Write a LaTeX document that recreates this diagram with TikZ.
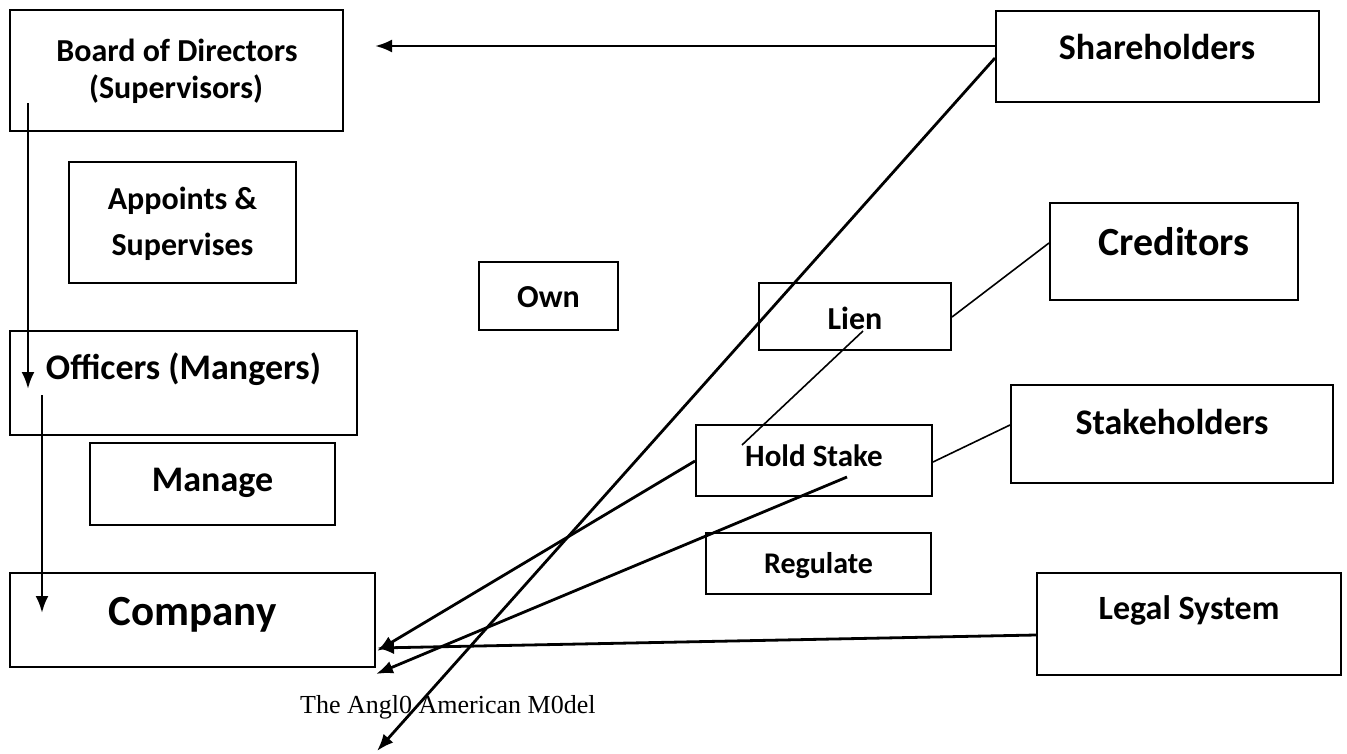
\documentclass[tikz,border=0pt]{standalone}
\usepackage{fontspec}
\setmainfont{Carlito}
\newfontfamily\capfont{Liberation Serif}
\usetikzlibrary{arrows.meta,fit}
\tikzset{
  box/.style={draw, line width=2pt, inner sep=0pt},
  lbl/.style={anchor=base, inner sep=0pt},
  arr/.style={line width=2.8pt, -{Latex[length=17pt,width=13pt]}},
  thin link/.style={line width=1.6pt}
}
\newcommand\fs[1]{\fontsize{#1}{#1}\bfseries\selectfont}
\begin{document}
\begin{tikzpicture}[x=1pt,y=-1pt]
\useasboundingbox (0,0) rectangle (1347,753);
% boxes
\node[box, fit={(10,10)(343,131)}] (bod) {};
\node[box, fit={(996,11)(1319,102)}] (sh) {};
\node[box, fit={(69,162)(296,283)}] (app) {};
\node[box, fit={(479,262)(618,330)}] (own) {};
\node[box, fit={(1050,203)(1298,300)}] (cred) {};
\node[box, fit={(759,283)(951,350)}] (lien) {};
\node[box, fit={(10,331)(357,435)}] (off) {};
\node[box, fit={(90,443)(335,525)}] (man) {};
\node[box, fit={(696,425)(932,496)}] (hs) {};
\node[box, fit={(1011,385)(1333,483)}] (stk) {};
\node[box, fit={(706,533)(931,594)}] (reg) {};
\node[box, fit={(10,573)(375,667)}] (co) {};
\node[box, fit={(1037,573)(1341,675)}] (leg) {};
% texts
\node[lbl, font=\fs{32}] (bodt1) at (177,61) {Board of Directors};
\node[lbl, font=\fs{32}] (bodt2) at (176,98) {(Supervisors)};
\node[lbl, font=\fs{36}] (sht) at (1157,59) {Shareholders};
\node[lbl, font=\fs{32}] (appt1) at (182.5,209) {Appoints \&};
\node[lbl, font=\fs{32}] (appt2) at (182.5,255) {Supervises};
\node[lbl, font=\fs{32}] (ownt) at (548.5,307) {Own};
\node[lbl, font=\fs{40}] (credt) at (1174,255) {Creditors};
\node[lbl, font=\fs{32}] (lient) at (855,329) {Lien};
\node[lbl, font=\fs{36}] (offt) at (183.5,379) {Officers (Mangers)};
\node[lbl, font=\fs{36}] (mant) at (212.5,491) {Manage};
\node[lbl, font=\fs{31}] (hst) at (814,466) {Hold Stake};
\node[lbl, font=\fs{36}] (stkt) at (1172,434) {Stakeholders};
\node[lbl, font=\fs{30}] (regt) at (818.5,573) {Regulate};
\node[lbl, font=\fs{43}] (cot) at (192.5,625) {Company};
\node[lbl, font=\fs{34}] (legt) at (1189,619) {Legal System};
\node[lbl, anchor=base west, font=\capfont\fontsize{26}{26}\selectfont] (cap) at (300,713) {The Angl0 American M0del};
% free ends
\coordinate (bodend) at (375,46);
\coordinate (diagend) at (377,751);
\coordinate (v1s) at (28,103);
\coordinate (v1e) at (28,389);
\coordinate (v2s) at (42,395);
\coordinate (v2e) at (42,613);
\coordinate (hsend) at (377,651);
\coordinate (hs2s) at (847,477);
\coordinate (hs2e) at (376,674);
\coordinate (legend) at (377,648);
\coordinate (liens) at (863,331);
\coordinate (hsin) at (742,445);
% connectors
\draw[arr] (sh.north west |- 0,46) -- (bodend);
\draw[arr] (sh.north west |- 0,58) -- (diagend);
\draw[arr] (v1s) -- (v1e);
\draw[arr] (v2s) -- (v2e);
\draw[arr] (hs.west |- 0,461) -- (hsend);
\draw[arr] (hs2s) -- (hs2e);
\draw[arr] (leg.west |- 0,635) -- (legend);
\draw[thin link] (liens) -- (hsin);
\draw[thin link] (lien.east |- 0,317) -- (cred.west |- 0,243);
\draw[thin link] (hs.east |- 0,462) -- (stk.west |- 0,425);
\end{tikzpicture}
\end{document}
